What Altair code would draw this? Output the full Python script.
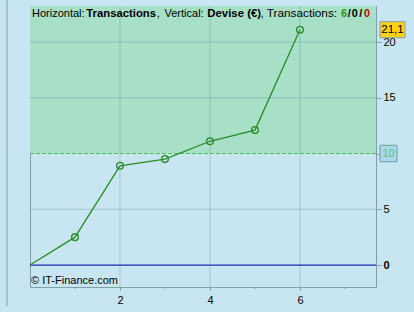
import altair as alt
import pandas as pd

# ---- data ----
trade_no = [0, 1, 2, 3, 4, 5, 6]
balance = [0, 2.5, 8.9, 9.5, 11.1, 12.1, 21.1]
threshold = 10
x_grid = [2, 4, 6]
x_minor = [1, 3, 5, 7]
y_ticks = [0, 5, 10, 15, 20]
y_grid = [5, 15, 20]
title_parts = ["Horizontal:", "Transactions", ",", "Vertical:", "Devise (€)", ",", "Transactions:", "6", "/", "0", "/", "0"]
title_weights = ["normal", "bold", "normal", "normal", "bold", "normal", "normal", "bold", "bold", "bold", "bold", "bold"]
title_colors = ["#000000"] * 7 + ["#1e9a1e", "#000000", "#000000", "#000000", "#cc0000"]
title_sizes = [11, 11.3, 11, 11, 11.4, 11, 11.8, 10.8, 10.8, 10.8, 10.8, 10.8]
title_x = [2, 56.3, 126.8, 134.5, 177.3, 230.5, 236.7, 311, 317.8, 321.8, 329.2, 334]
copyright_text = "© IT-Finance.com"
last_label = "21,1"

X_DOM = [0, 7.69]
Y_DOM = [-1.97, 23.23]
FONT = "Liberation Sans"
BG = "#c8e6f1"
BORDER = "#7f9fae"

xs = alt.Scale(domain=X_DOM, nice=False, zero=False)
ys = alt.Scale(domain=Y_DOM, nice=False, zero=False)

df = pd.DataFrame({"x": trade_no, "y": balance})
df_pts = df.iloc[1:]

zone = alt.Chart(pd.DataFrame({"y": [threshold], "y2": [Y_DOM[1]]})).mark_rect(
    color="#a7e0c6").encode(
    x=alt.value(0), x2=alt.value("width"),
    y=alt.Y("y:Q", scale=ys,
            axis=alt.Axis(orient="right", values=y_ticks, grid=False, domain=False,
                          tickSize=5, tickColor=BORDER, labelFontSize=11, labelFont=FONT,
                          labelColor="#000000", labelPadding=2, title=None,
                          labelExpr="datum.value == 10 ? '' : datum.label",
                          labelFontWeight=alt.condition("datum.value == 0", alt.value("bold"), alt.value("normal")))),
    y2="y2:Q")

vgrid = alt.Chart(pd.DataFrame({"x": x_grid})).mark_rule(
    color="#4f7f90", opacity=0.3, strokeWidth=1).encode(
    x=alt.X("x:Q", scale=xs,
            axis=alt.Axis(orient="bottom", values=x_grid, grid=False, domain=False,
                          tickSize=3, tickColor=BORDER, labelFontSize=11, labelFont=FONT,
                          labelColor="#000000", labelPadding=4, title=None)),
    y=alt.value(0), y2=alt.value("height"))

hgrid = alt.Chart(pd.DataFrame({"y": y_grid})).mark_rule(
    color="#4f7f90", opacity=0.3, strokeWidth=1).encode(
    y=alt.Y("y:Q", scale=ys), x=alt.value(0), x2=alt.value("width"))

minor = alt.Chart(pd.DataFrame({"x": x_minor})).mark_rule(
    color=BORDER, strokeWidth=1).encode(
    x=alt.X("x:Q", scale=xs), y=alt.value(281), y2=alt.value(283))

zero = alt.Chart(pd.DataFrame({"y": [0]})).mark_rule(
    color="#1f2db0", strokeWidth=1.3).encode(
    y=alt.Y("y:Q", scale=ys), x=alt.value(0), x2=alt.value("width"))

thr = alt.Chart(pd.DataFrame({"y": [threshold]})).mark_rule(
    color="#4cc84c", strokeWidth=1, strokeDash=[4, 2]).encode(
    y=alt.Y("y:Q", scale=ys), x=alt.value(0), x2=alt.value("width"))

line = alt.Chart(df).mark_line(color="#2a8c2a", strokeWidth=1.3).encode(
    x=alt.X("x:Q", scale=xs), y=alt.Y("y:Q", scale=ys))

pts = alt.Chart(df_pts).mark_point(
    shape="circle", filled=False, size=46, stroke="#2a8c2a", strokeWidth=1.3, opacity=1).encode(
    x=alt.X("x:Q", scale=xs), y=alt.Y("y:Q", scale=ys))

box_shape = "M-1,-0.64L1,-0.64L1,0.64L-1,0.64Z"
last_df = pd.DataFrame({"y": [balance[-1]], "t": [last_label]})
last_box = alt.Chart(last_df).mark_point(
    shape=box_shape, size=625, filled=True, fill="#ffd21a", stroke=BORDER,
    strokeWidth=1, opacity=1).encode(
    x=alt.value(362.5), y=alt.Y("y:Q", scale=ys))
last_txt = alt.Chart(last_df).mark_text(
    font=FONT, fontSize=11.5, color="#000000", align="center", baseline="middle").encode(
    x=alt.value(362.5), y=alt.Y("y:Q", scale=ys), text="t:N")

thr_df = pd.DataFrame({"y": [threshold], "t": [str(threshold)]})
thr_box = alt.Chart(thr_df).mark_point(
    shape="M-1,-0.97L1,-0.97L1,0.97L-1,0.97Z", size=289, filled=True, fill="#a9d9ec",
    stroke="#6f97a8", strokeWidth=1, opacity=1).encode(
    x=alt.value(358.5), y=alt.Y("y:Q", scale=ys))
thr_txt = alt.Chart(thr_df).mark_text(
    font=FONT, fontSize=11, color="#5cc45c", align="center", baseline="middle").encode(
    x=alt.value(358.5), y=alt.Y("y:Q", scale=ys), text="t:N")

title_layers = []
for txt, w, c, fs, px in zip(title_parts, title_weights, title_colors, title_sizes, title_x):
    title_layers.append(
        alt.Chart(pd.DataFrame({"t": [txt]})).mark_text(
            font=FONT, fontSize=fs, fontWeight=w, color=c, align="left", baseline="alphabetic").encode(
            x=alt.value(px), y=alt.value(11.3), text="t:N"))

copy_txt = alt.Chart(pd.DataFrame({"t": [copyright_text]})).mark_text(
    font=FONT, fontSize=11, color="#000000", align="left", baseline="middle").encode(
    x=alt.value(1), y=alt.value(275), text="t:N")

side_rule = alt.Chart(pd.DataFrame({"a": [0]})).mark_rule(color=BORDER, strokeWidth=1).encode(
    x=alt.value(-23), y=alt.value(-6), y2=alt.value(300))

chart = alt.layer(
    zone, vgrid, hgrid, minor, zero, thr, line, pts,
    last_box, last_txt, thr_box, thr_txt, copy_txt, side_rule, *title_layers
).properties(
    width=346, height=281,
    padding={"left": 30, "top": 6, "right": 38, "bottom": 25},
    autosize=alt.AutoSizeParams(type="none"),
    background=BG,
).configure_view(stroke=BORDER, strokeWidth=1, fill=None)

chart.save("out.html", embed_options={"renderer": "svg", "actions": False})
